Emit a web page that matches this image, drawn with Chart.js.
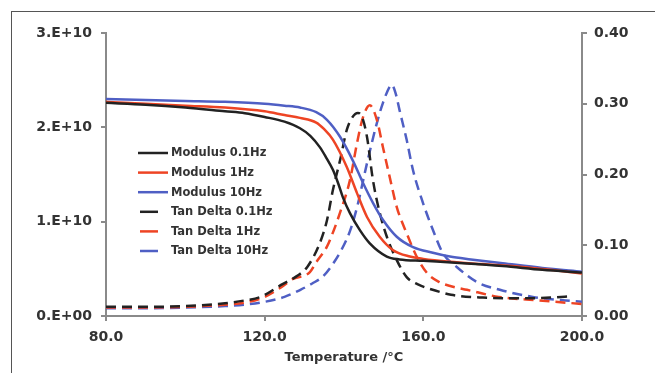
<!DOCTYPE html>
<html>
<head>
<meta charset="utf-8">
<script src="https://cdn.jsdelivr.net/npm/chart.js@4.4.0/dist/chart.umd.min.js"></script>
<style>
  html, body { margin: 0; padding: 0; background: #fff; }
  #wrap { position: relative; width: 655px; height: 373px; }
  #frame { position: absolute; left: 11px; top: 11px; right: 0; bottom: 0;
           border-top: 1.5px solid #555; border-left: 1.5px solid #555; pointer-events: none; }
  canvas { position: absolute; left: 0; top: 0; }
</style>
</head>
<body>
<div id="wrap">
  <canvas id="c" width="655" height="373"></canvas>
  <div id="frame"></div>
</div>
<script>
// ---- data ----
const seriesNames = ['Modulus 0.1Hz', 'Modulus 1Hz', 'Modulus 10Hz', 'Tan Delta 0.1Hz', 'Tan Delta 1Hz', 'Tan Delta 10Hz'];

const modT01 = [80, 90, 100, 110, 115, 120, 125, 128.9, 131.5, 133.9, 135.5, 137.2, 138.5, 139.7, 141.5, 144, 146.5, 150.8, 154, 160, 170, 180, 190, 200];
const mod01  = [2.26e10, 2.24e10, 2.21e10, 2.17e10, 2.15e10, 2.11e10, 2.06e10, 1.99e10, 1.91e10, 1.79e10, 1.68e10, 1.55e10, 1.41e10, 1.26e10, 1.09e10, 0.91e10, 0.77e10, 0.63e10, 0.60e10, 0.585e10, 0.56e10, 0.53e10, 0.49e10, 0.46e10];

const modT1 = [80, 90, 100, 110, 120, 125, 128.9, 133, 135, 137.2, 140.7, 143.3, 145.8, 149, 152.3, 156.6, 160, 166.7, 175, 185, 192, 200];
const mod1  = [2.27e10, 2.25e10, 2.23e10, 2.21e10, 2.17e10, 2.13e10, 2.10e10, 2.05e10, 1.98e10, 1.87e10, 1.58e10, 1.30e10, 1.05e10, 0.84e10, 0.70e10, 0.63e10, 0.605e10, 0.575e10, 0.55e10, 0.52e10, 0.49e10, 0.45e10];

const modT10 = [80, 90, 100, 110, 120, 125, 128.9, 133, 135.7, 139, 142.2, 144.8, 147.3, 149.8, 153.3, 157.4, 162.4, 166.7, 172, 180, 190, 200];
const mod10  = [2.30e10, 2.29e10, 2.28e10, 2.27e10, 2.25e10, 2.23e10, 2.21e10, 2.16e10, 2.08e10, 1.90e10, 1.65e10, 1.41e10, 1.20e10, 1.02e10, 0.84e10, 0.73e10, 0.67e10, 0.63e10, 0.60e10, 0.56e10, 0.51e10, 0.47e10];

const tanT01 = [80, 90, 100, 110, 115, 119, 124.5, 128, 130.7, 133.9, 135.7, 137.2, 139, 140.7, 142, 143.5, 144.5, 145.8, 147.3, 149, 150.8, 153.3, 155.8, 158.5, 163, 167, 175, 185, 192, 197.5];
const tan01  = [0.013, 0.013, 0.014, 0.018, 0.022, 0.027, 0.045, 0.056, 0.069, 0.103, 0.135, 0.178, 0.220, 0.263, 0.280, 0.287, 0.282, 0.253, 0.192, 0.146, 0.112, 0.079, 0.055, 0.045, 0.036, 0.030, 0.026, 0.025, 0.026, 0.028];

const tanT1 = [80, 90, 100, 110, 115, 120, 124, 127, 131.4, 133, 135.7, 137, 139, 141.5, 143.3, 144.8, 146.5, 148.3, 149.8, 151.5, 153.3, 155.8, 158.4, 160.9, 164, 167, 171, 179, 189, 200];
const tan1  = [0.012, 0.012, 0.013, 0.016, 0.019, 0.027, 0.040, 0.052, 0.062, 0.076, 0.098, 0.115, 0.146, 0.192, 0.245, 0.281, 0.298, 0.277, 0.239, 0.197, 0.154, 0.117, 0.083, 0.061, 0.048, 0.042, 0.037, 0.027, 0.022, 0.017];

const tanT10 = [80, 90, 100, 110, 115, 120, 125, 129, 132, 134.7, 137, 139.5, 141.5, 143.3, 145.8, 148.3, 149.8, 151.5, 152, 153, 154, 155.8, 157.4, 159.9, 162.4, 164.9, 168.5, 173.5, 179.3, 187.6, 200];
const tan10  = [0.011, 0.011, 0.012, 0.014, 0.016, 0.020, 0.027, 0.037, 0.046, 0.056, 0.072, 0.095, 0.120, 0.154, 0.216, 0.273, 0.301, 0.324, 0.327, 0.315, 0.291, 0.249, 0.206, 0.160, 0.122, 0.089, 0.069, 0.048, 0.037, 0.027, 0.020];

const xTickLabels = ['80.0', '120.0', '160.0', '200.0'];
const leftTickLabels = ['0.E+00', '1.E+10', '2.E+10', '3.E+10'];
const rightTickLabels = ['0.00', '0.10', '0.20', '0.30', '0.40'];
const xTitle = 'Temperature /\u00B0C';

// ---- styles ----
const colBlack = '#222222';
const colRed = '#ee4424';
const colBlue = '#4f5fc4';
const AXIS = '#8a8a8a';
const TXT = '#333333';
const FONT = 'DejaVu Sans';

function pts(xs, ys) { return xs.map((x, i) => ({ x: x, y: ys[i] })); }

function ds(label, xs, ys, color, axis, dashed) {
  return {
    label: label,
    data: pts(xs, ys),
    borderColor: color,
    backgroundColor: color,
    borderWidth: 2.5,
    borderDash: dashed ? [10, 6] : [],
    pointRadius: 0,
    cubicInterpolationMode: 'monotone',
    yAxisID: axis,
    fill: false
  };
}

const datasets = [
  ds(seriesNames[0], modT01, mod01, colBlack, 'y', false),
  ds(seriesNames[1], modT1, mod1, colRed, 'y', false),
  ds(seriesNames[2], modT10, mod10, colBlue, 'y', false),
  ds(seriesNames[3], tanT01, tan01, colBlack, 'y1', true),
  ds(seriesNames[4], tanT1, tan1, colRed, 'y1', true),
  ds(seriesNames[5], tanT10, tan10, colBlue, 'y1', true)
];

const legendPlugin = {
  id: 'innerLegend',
  afterDatasetsDraw(chart) {
    const ctx = chart.ctx;
    const ca = chart.chartArea;
    const x0 = ca.left + 32;
    const y0 = ca.top + 120;
    const step = 19.6;
    ctx.save();
    ctx.font = 'bold 11.5px "' + FONT + '"';
    ctx.textBaseline = 'middle';
    ctx.textAlign = 'left';
    chart.data.datasets.forEach((d, i) => {
      const y = y0 + i * step;
      ctx.strokeStyle = d.borderColor;
      ctx.lineWidth = 2.5;
      ctx.setLineDash([]);
      ctx.beginPath();
      if (d.borderDash && d.borderDash.length) {
        ctx.moveTo(x0 + 2, y); ctx.lineTo(x0 + 20, y);
      } else {
        ctx.moveTo(x0, y); ctx.lineTo(x0 + 30, y);
      }
      ctx.stroke();
      ctx.fillStyle = TXT;
      ctx.fillText(d.label, x0 + 33, y + 0.5);
    });
    ctx.restore();
  }
};

new Chart(document.getElementById('c'), {
  type: 'line',
  data: { datasets: datasets },
  plugins: [legendPlugin],
  options: {
    responsive: false,
    animation: false,
    layout: { padding: { top: 33, left: 0, right: 0, bottom: 0 } },
    plugins: { legend: { display: false }, tooltip: { enabled: false } },
    scales: {
      x: {
        type: 'linear', min: 80, max: 200,
        afterFit(s) { s.height = 57; },
        afterBuildTicks(s) { s.ticks = xTickLabels.map(t => ({ value: parseFloat(t) })); },
        ticks: {
          color: TXT, font: { family: FONT, size: 14, weight: 'bold' }, padding: 8,
          maxRotation: 0, autoSkip: false,
          callback(v) { const i = xTickLabels.findIndex(t => parseFloat(t) === v); return i >= 0 ? xTickLabels[i] : ''; }
        },
        grid: { display: true, drawOnChartArea: false, drawTicks: true, tickLength: 5, color: AXIS, lineWidth: 2 },
        border: { display: true, color: AXIS, width: 2 },
        title: { display: true, text: xTitle, color: TXT, font: { family: FONT, size: 13, weight: 'bold' }, padding: { top: 0, bottom: 8 } }
      },
      y: {
        type: 'linear', position: 'left', min: 0, max: 3e10,
        afterFit(s) { s.width = 106; },
        afterBuildTicks(s) { s.ticks = leftTickLabels.map((t, i) => ({ value: i * 1e10 })); },
        ticks: {
          color: TXT, font: { family: FONT, size: 14, weight: 'bold' }, padding: 9,
          callback(v) { const i = Math.round(v / 1e10); return leftTickLabels[i] || ''; }
        },
        grid: { display: true, drawOnChartArea: false, tickLength: 5, color: AXIS, lineWidth: 2 },
        border: { display: true, color: AXIS, width: 2 }
      },
      y1: {
        type: 'linear', position: 'right', min: 0, max: 0.4,
        afterFit(s) { s.width = 73; },
        afterBuildTicks(s) { s.ticks = rightTickLabels.map(t => ({ value: parseFloat(t) })); },
        ticks: {
          color: TXT, font: { family: FONT, size: 14, weight: 'bold' }, padding: 7,
          callback(v) { const i = Math.round(v * 10); return rightTickLabels[i] || ''; }
        },
        grid: { display: true, drawOnChartArea: false, tickLength: 5, color: AXIS, lineWidth: 2 },
        border: { display: true, color: AXIS, width: 2 }
      }
    }
  }
});
</script>
</body>
</html>
